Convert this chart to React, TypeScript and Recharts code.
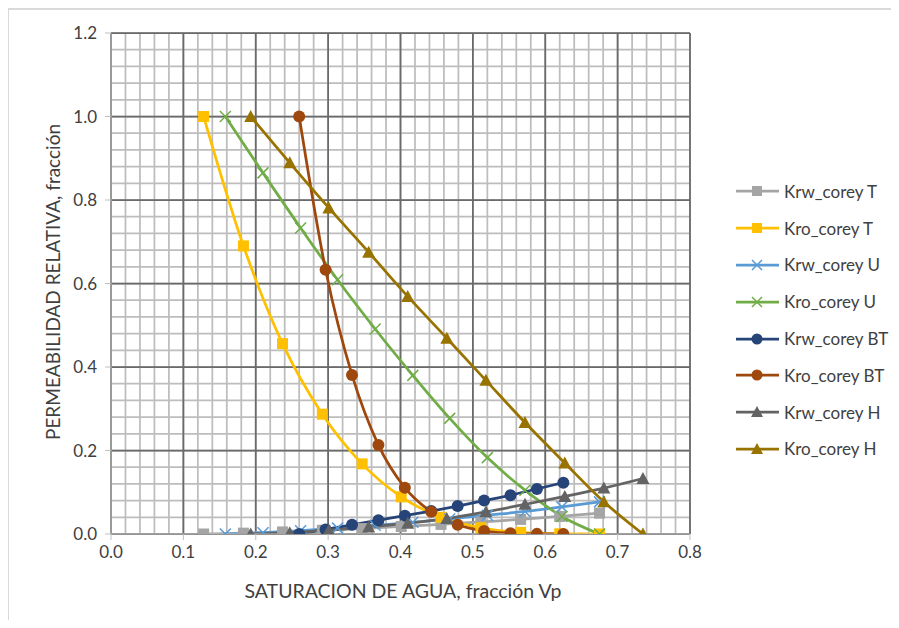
import { LineChart, Line, XAxis, YAxis, CartesianGrid, Legend } from "recharts"

// Water saturation (x) and relative permeability (y) per rock type
const swT = [0.128, 0.183, 0.237, 0.292, 0.347, 0.401, 0.456, 0.511, 0.566, 0.62, 0.675]
const krwT = [0, 0.002, 0.005, 0.009, 0.013, 0.018, 0.023, 0.029, 0.035, 0.042, 0.05]
const kroT = [1.0, 0.69, 0.456, 0.287, 0.168, 0.089, 0.04, 0.015, 0.004, 0.0006, 0]

const swU = [0.158, 0.21, 0.262, 0.313, 0.365, 0.417, 0.468, 0.52, 0.572, 0.623, 0.675]
const krwU = [0, 0.003, 0.008, 0.014, 0.021, 0.028, 0.036, 0.045, 0.054, 0.065, 0.077]
const kroU = [1.0, 0.865, 0.733, 0.609, 0.491, 0.38, 0.277, 0.183, 0.105, 0.042, 0]

const swBT = [0.26, 0.2965, 0.333, 0.3695, 0.406, 0.4425, 0.479, 0.5155, 0.552, 0.5885, 0.625]
const krwBT = [0, 0.011, 0.022, 0.033, 0.044, 0.055, 0.067, 0.08, 0.093, 0.108, 0.123]
const kroBT = [1.0, 0.633, 0.381, 0.213, 0.111, 0.053, 0.022, 0.007, 0.002, 0.0003, 0]

const swH = [0.193, 0.247, 0.301, 0.356, 0.41, 0.464, 0.518, 0.572, 0.627, 0.681, 0.735]
const krwH = [0, 0.003, 0.009, 0.017, 0.026, 0.037, 0.053, 0.071, 0.09, 0.11, 0.133]
const kroH = [1.0, 0.889, 0.781, 0.675, 0.569, 0.469, 0.368, 0.267, 0.17, 0.077, 0]

const xTicks = [0, 0.1, 0.2, 0.3, 0.4, 0.5, 0.6, 0.7, 0.8]
const yTicks = [0, 0.2, 0.4, 0.6, 0.8, 1.0, 1.2]

type Shape = "square" | "x" | "circle" | "triangle"

const series: { name: string; sw: number[]; kr: number[]; color: string; shape: Shape }[] = [
  { name: "Krw_corey T", sw: swT, kr: krwT, color: "#a5a5a5", shape: "square" },
  { name: "Kro_corey T", sw: swT, kr: kroT, color: "#ffc000", shape: "square" },
  { name: "Krw_corey U", sw: swU, kr: krwU, color: "#5b9bd5", shape: "x" },
  { name: "Kro_corey U", sw: swU, kr: kroU, color: "#70ad47", shape: "x" },
  { name: "Krw_corey BT", sw: swBT, kr: krwBT, color: "#264478", shape: "circle" },
  { name: "Kro_corey BT", sw: swBT, kr: kroBT, color: "#9e480e", shape: "circle" },
  { name: "Krw_corey H", sw: swH, kr: krwH, color: "#636363", shape: "triangle" },
  { name: "Kro_corey H", sw: swH, kr: kroH, color: "#997300", shape: "triangle" },
]

const X_MAX = 0.8
const Y_MAX = 1.2

const steps = (max: number, step: number) => {
  const out: number[] = []
  for (let i = 0; i * step <= max + 1e-9; i++) out.push(Math.round(i * step * 1000) / 1000)
  return out
}
const minorX = steps(X_MAX, 0.02)
const minorY = steps(Y_MAX, 0.04)

// grid line pixel positions from the plot offset
const vGen = (vals: number[]) => ({ offset }: any) => vals.map((v) => offset.left + (offset.width * v) / X_MAX)
const hGen = (vals: number[]) => ({ offset }: any) => vals.map((v) => offset.top + offset.height * (1 - v / Y_MAX))

const textColor = "#404040"

function Marker({ cx, cy, shape, color, size = 11 }: { cx: number; cy: number; shape: Shape; color: string; size?: number }) {
  const h = size / 2
  if (shape === "square") return <rect x={cx - h} y={cy - h} width={size} height={size} fill={color} />
  if (shape === "circle") return <circle cx={cx} cy={cy} r={h + 0.5} fill={color} />
  if (shape === "triangle")
    return <polygon points={`${cx},${cy - h - 1} ${cx + h + 1},${cy + h} ${cx - h - 1},${cy + h}`} fill={color} />
  return (
    <path d={`M${cx - h},${cy - h}L${cx + h},${cy + h}M${cx - h},${cy + h}L${cx + h},${cy - h}`} stroke={color} strokeWidth={1.5} fill="none" />
  )
}

function LegendBox() {
  return (
    <div style={{ fontSize: 17, color: textColor }}>
      {series.map((s) => (
        <div key={s.name} style={{ display: "flex", alignItems: "center", height: 36.8 }}>
          <svg width={46} height={16} style={{ marginRight: 3 }}>
            <line x1={1} y1={8} x2={44} y2={8} stroke={s.color} strokeWidth={2.75} />
            <Marker cx={22} cy={8} shape={s.shape} color={s.color} size={10} />
          </svg>
          <span>{s.name}</span>
        </div>
      ))}
    </div>
  )
}

export default function App() {
  return (
    <div style={{ position: "relative", margin: -8, width: 899, height: 628, background: "#fff", fontFamily: "Lato, sans-serif", overflow: "hidden" }}>
      <div style={{ position: "absolute", left: 7, top: 8, width: 900, height: 630, borderLeft: "2px solid #d9d9d9", borderTop: "2px solid #d9d9d9" }} />
      <LineChart width={899} height={628} margin={{ top: 33, right: 209, bottom: 64, left: 51 }} style={{ position: "absolute", left: 0, top: 0 }}>
        <CartesianGrid
          horizontalCoordinatesGenerator={hGen(minorY)}
          verticalCoordinatesGenerator={vGen(minorX)}
          stroke="#bdbdbd"
          strokeWidth={1.75}
        />
        <CartesianGrid
          horizontalCoordinatesGenerator={hGen(yTicks)}
          verticalCoordinatesGenerator={vGen(xTicks)}
          stroke="#6a6a6a"
          strokeWidth={1.75}
        />
        <XAxis
          type="number"
          dataKey="x"
          domain={[0, X_MAX]}
          ticks={xTicks}
          tickFormatter={(v: number) => v.toFixed(1)}
          tick={{ fill: textColor, fontSize: 17 }}
          tickSize={6}
          tickMargin={6}
          stroke="#bfbfbf"
          height={30}
          allowDataOverflow
          label={{
            content: () => (
              <text x={403} y={598} textAnchor="middle" fill={textColor} fontSize={19.5}>
                SATURACION DE AGUA, fracción Vp
              </text>
            ),
          }}
        />
        <YAxis
          type="number"
          domain={[0, Y_MAX]}
          ticks={yTicks}
          tickFormatter={(v: number) => v.toFixed(1)}
          tick={{ fill: textColor, fontSize: 17 }}
          tickSize={6}
          tickMargin={8}
          stroke="#bfbfbf"
          width={60}
          allowDataOverflow
          label={{
            content: () => (
              <text x={60} y={282} transform="rotate(-90 60 282)" textAnchor="middle" fill={textColor} fontSize={19}>
                PERMEABILIDAD RELATIVA, fracción
              </text>
            ),
          }}
        />
        {series.map((s) => (
          <Line
            key={s.name}
            name={s.name}
            data={s.sw.map((x, i) => ({ x, y: s.kr[i] }))}
            dataKey="y"
            type="monotone"
            stroke={s.color}
            strokeWidth={2.75}
            isAnimationActive={false}
            dot={(p: any) => <Marker key={`${s.name}-${p.index}`} cx={p.cx} cy={p.cy} shape={s.shape} color={s.color} />}
            activeDot={false}
          />
        ))}
        <Legend layout="vertical" align="center" verticalAlign="middle" wrapperStyle={{ left: 735, top: 173, width: 160 }} content={() => <LegendBox />} />
      </LineChart>
    </div>
  )
}
